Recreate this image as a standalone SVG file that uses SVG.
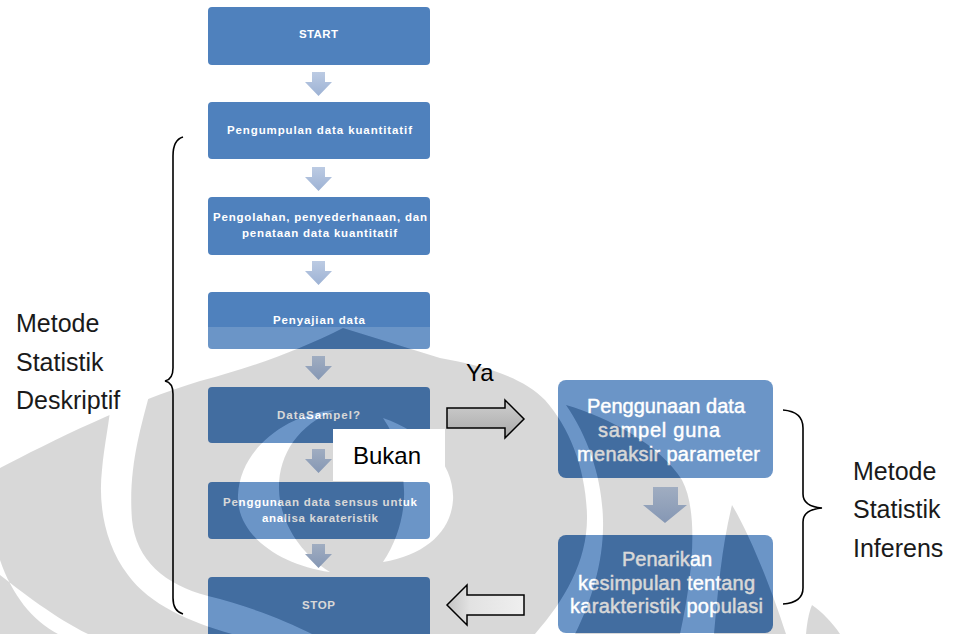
<svg xmlns="http://www.w3.org/2000/svg" xmlns:xlink="http://www.w3.org/1999/xlink" width="955" height="634" viewBox="0 0 955 634">
<style>
.box{fill:#4f81bd}
.bt{font-family:"Liberation Sans",Arial,sans-serif;font-weight:bold;font-size:11.5px;fill:#fff;text-anchor:middle}
.rt{font-family:"Liberation Sans",Arial,sans-serif;font-size:20px;fill:#fff;stroke:#fff;stroke-width:0.45;text-anchor:middle}
.lab{font-family:"Liberation Sans",Arial,sans-serif;font-size:25px;fill:#1a1a1a}
.yb{font-family:"Liberation Sans",Arial,sans-serif;font-size:24px;fill:#000}
.brace{fill:none;stroke:#000;stroke-width:1.6}
.blk{stroke:#000;stroke-width:1.5;stroke-linejoin:miter}
</style>
<defs>
<linearGradient id="ga" x1="0" y1="0" x2="0" y2="1"><stop offset="0" stop-color="#bccbe3"/><stop offset="1" stop-color="#9db2d4"/></linearGradient>
<linearGradient id="gd" x1="0" y1="0" x2="0" y2="1"><stop offset="0" stop-color="#a0adc1"/><stop offset="1" stop-color="#8597b4"/></linearGradient>
<linearGradient id="gy" x1="0" y1="0" x2="0" y2="1"><stop offset="0" stop-color="#cfcfcf"/><stop offset="1" stop-color="#a9a9a9"/></linearGradient>
<linearGradient id="gb" x1="0" y1="0" x2="1" y2="0"><stop offset="0" stop-color="#c4c4c4"/><stop offset="0.3" stop-color="#e2e2e2"/><stop offset="1" stop-color="#efefef"/></linearGradient>
<path id="dArrow" d="M-6.5,0 h13 v10 h7 L0,24 L-13.5,10 h7 z"/>
<g id="greyShape">
<path d="M0,468 C50,442 130,402 200,381 C250,368 300,350 343,328 L440,358 C480,365 522,376 545,400 C570,428 586,470 587,515 C588,560 565,600 535,634 L0,634 Z"/>
<path d="M566,405 C610,418 660,445 682,480 C698,510 694,570 680,634 L575,634 C592,600 604,560 603,520 C602,480 590,440 566,405 Z"/>
<path d="M732,505 C750,535 772,590 786,634 L714,634 C718,590 722,545 732,505 Z"/>
<path d="M812,605 C822,612 832,622 840,634 L806,634 C807,622 809,612 812,605 Z"/>
</g>
<g id="whiteCuts">
<path d="M112,392 L150,392 C140,430 128,470 132,520 C136,560 165,585 208,596 C245,605 285,620 312,634 L232,634 C190,622 150,605 128,575 C105,545 98,505 102,470 C104,445 110,420 112,392 Z"/>
<path d="M0,560 C12,595 32,620 58,634 L88,634 C55,618 22,592 0,575 Z"/>
<path d="M335,410 C285,414 240,450 238,495 C236,535 280,565 330,572 C298,552 280,520 279,490 C278,455 298,425 335,410 Z"/>
<path d="M383,418 C425,432 455,465 453,500 C451,532 425,555 383,562 C398,540 405,512 404,490 C403,462 398,440 383,418 Z"/>
</g>
<mask id="mGrey" maskUnits="userSpaceOnUse" x="0" y="0" width="955" height="634">
<use xlink:href="#greyShape" fill="#fff"/>
<use xlink:href="#whiteCuts" fill="#000"/>
</mask>
<mask id="mLight" maskUnits="userSpaceOnUse" x="0" y="0" width="955" height="634">
<rect x="0" y="327" width="955" height="307" fill="#fff"/>
<use xlink:href="#greyShape" fill="#000"/>
<use xlink:href="#whiteCuts" fill="#fff"/>
</mask>
</defs>
<rect x="0" y="0" width="955" height="634" fill="#fff"/>

<g id="n-start"><rect class="box" x="208" y="7" width="222" height="58" rx="4"/><text class="bt" x="318.5" y="38" textLength="39">START</text></g>
<g id="n-pengumpulan"><rect class="box" x="208" y="102" width="222" height="57" rx="4"/><text class="bt" x="319.5" y="134" textLength="185">Pengumpulan data kuantitatif</text></g>
<g id="n-pengolahan"><rect class="box" x="208" y="197" width="222" height="58" rx="4"/><text class="bt" x="320" y="221" textLength="214">Pengolahan, penyederhanaan, dan</text><text class="bt" x="319.5" y="237" textLength="155">penataan data kuantitatif</text></g>
<g id="n-penyajian"><rect class="box" x="208" y="292" width="222" height="57" rx="4"/><text class="bt" x="319" y="324" textLength="92">Penyajian data</text></g>
<g id="n-datasampel"><rect class="box" x="208" y="387" width="222" height="56" rx="4"/><text class="bt" x="318.5" y="419" textLength="83">DataSampel?</text></g>
<g id="n-sensus"><rect class="box" x="208" y="482" width="222" height="57" rx="4"/><text class="bt" x="320" y="506" textLength="194">Penggunaan data sensus untuk</text><text class="bt" x="320" y="522" textLength="116">analisa karateristik</text></g>
<g id="n-stop"><rect class="box" x="208" y="577" width="222" height="62" rx="4"/><text class="bt" x="318.5" y="609" textLength="33">STOP</text></g>
<g id="n-sampel"><rect class="box" x="558" y="380" width="215" height="98" rx="8"/><text class="rt" x="666" y="413" textLength="158">Penggunaan data</text><text class="rt" x="659" y="437" textLength="122">sampel guna</text><text class="rt" x="668.5" y="461" textLength="183">menaksir parameter</text></g>
<g id="n-penarikan"><rect class="box" x="558" y="535" width="215" height="98" rx="8"/><text class="rt" x="667" y="566" textLength="90">Penarikan</text><text class="rt" x="666.5" y="590" textLength="177">kesimpulan tentang</text><text class="rt" x="666.5" y="613" textLength="193">karakteristik populasi</text></g>

<g id="watermark">
<rect x="0" y="0" width="955" height="634" fill="#fff" opacity="0.16" mask="url(#mLight)"/>
<rect x="0" y="0" width="955" height="634" fill="#000" opacity="0.15" mask="url(#mGrey)"/>
</g>

<g id="connectors">
<use xlink:href="#dArrow" x="318.5" y="72" fill="url(#ga)"/>
<use xlink:href="#dArrow" x="318.5" y="167" fill="url(#ga)"/>
<use xlink:href="#dArrow" x="318.5" y="261" fill="url(#ga)"/>
<use xlink:href="#dArrow" x="318.5" y="356" fill="url(#gd)"/>
<use xlink:href="#dArrow" x="318.5" y="449" fill="url(#gd)"/>
<use xlink:href="#dArrow" x="318.5" y="544" fill="url(#gd)"/>
<path d="M653,487 h25 v18 h9 l-22,18 l-22,-18 h10 z" fill="url(#gd)"/>
<path class="blk" d="M447,408 H505 V400 L524,419 L505,438 V428 H447 Z" fill="url(#gy)"/>
<path class="blk" d="M524,595 H467 V585 L447,605 L467,625 V615 H524 Z" fill="url(#gb)"/>
</g>

<g id="labels">
<path class="brace" d="M183,137 C176,139 173,146 173,156 L173,368 C173,376 170,380 165,381 C170,382 173,386 173,394 L173,598 C173,607 176,612 183,614"/>
<path class="brace" d="M783,410 C796,411 803,417 803,428 L803,494 C803,502 810,507 822,508 C810,509 803,514 803,522 L803,588 C803,598 796,603 783,604"/>
<text class="lab" x="16" y="332">Metode</text>
<text class="lab" x="16" y="371">Statistik</text>
<text class="lab" x="16" y="409">Deskriptif</text>
<text class="lab" x="853" y="480">Metode</text>
<text class="lab" x="853" y="518">Statistik</text>
<text class="lab" x="853" y="557">Inferens</text>
<text class="yb" x="466" y="381">Ya</text>
<rect x="333" y="429" width="112" height="52" fill="#fff"/>
<text class="yb" x="353" y="464">Bukan</text>
</g>
</svg>
